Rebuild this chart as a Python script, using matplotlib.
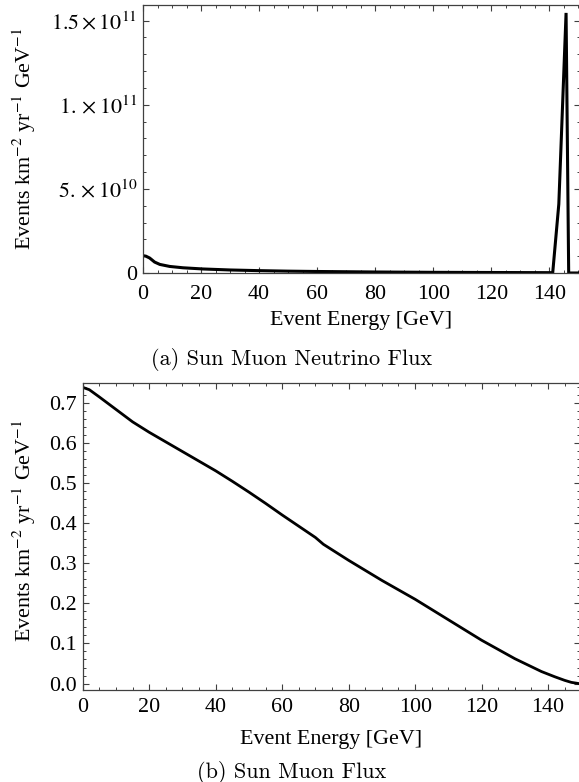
import matplotlib
matplotlib.use("Agg")
import matplotlib.pyplot as plt
from matplotlib.ticker import MultipleLocator

plt.rcParams["font.family"] = ["Liberation Serif", "DejaVu Serif"]
plt.rcParams["mathtext.fontset"] = "stix"

# (a) muon neutrino flux from the Sun
nu_energy = [0, 1, 2.3, 4.0, 5.8, 9.2, 13.8, 20.6, 30, 40, 50, 60, 80, 100, 120,
             141.2, 143.3, 145.8, 146.7, 150.6]
nu_flux = [1.03e10, 1.0e10, 0.89e10, 0.65e10, 0.51e10, 0.39e10, 0.31e10, 0.24e10,
           0.18e10, 0.14e10, 0.11e10, 0.09e10, 0.06e10, 0.04e10, 0.03e10,
           0.02e10, 0.41e11, 1.546e11, 0.0, 0.0]
nu_yticks = [0, 5e10, 1e11, 1.5e11]
nu_yticklabels = ["0", r"$5.\times10^{10}$", r"$1.\times10^{11}$", r"$1.5\times10^{11}$"]

# (b) muon flux from the Sun
mu_energy = [0, 2, 5, 10, 15, 20, 25, 30, 35, 40, 45, 50, 55, 60, 70, 72.4, 80, 90,
             100, 110, 120, 130, 138, 142, 145, 147, 149.3]
mu_flux = [0.738, 0.732, 0.714, 0.683, 0.652, 0.626, 0.602, 0.578, 0.554, 0.530,
           0.504, 0.477, 0.449, 0.420, 0.364, 0.347, 0.307, 0.257, 0.210, 0.159,
           0.108, 0.062, 0.030, 0.017, 0.008, 0.003, 0.0]
mu_yticks = [0.0, 0.1, 0.2, 0.3, 0.4, 0.5, 0.6, 0.7]

xticks = [0, 20, 40, 60, 80, 100, 120, 140]
ylabel = r"Events km$^{-2}$ yr$^{-1}$ GeV$^{-1}$"
xlabel = "Event Energy [GeV]"

W, H = 579, 782
FS = 15.8
fig = plt.figure(figsize=(W / 100, H / 100), dpi=100)


def style(ax, xpad):
    for s in ax.spines.values():
        s.set_color("0.25")
        s.set_linewidth(0.9)
    ax.tick_params(which="both", direction="in", top=True, right=True,
                   color="0.25", labelsize=FS, pad=4)
    ax.tick_params(axis="x", pad=xpad)
    ax.tick_params(which="major", length=4.5, width=0.8)
    ax.tick_params(which="minor", length=2.5, width=0.7)
    ax.xaxis.set_minor_locator(MultipleLocator(5))


ax1 = fig.add_axes([143 / W, 1 - 273 / H, 437 / W, 268 / H])
ax1.plot(nu_energy, nu_flux, color="black", lw=2.2, solid_joinstyle="miter")
ax1.set_xlim(0, 150.6)
ax1.set_ylim(0, 1.593e11)
ax1.set_xticks(xticks)
ax1.set_yticks(nu_yticks, nu_yticklabels)
ax1.yaxis.set_minor_locator(MultipleLocator(1e10))
style(ax1, 9)
ax1.set_xlabel(xlabel, fontsize=FS, labelpad=5)
ax1.set_ylabel(ylabel, fontsize=FS)
ax1.yaxis.set_label_coords((38 - 143) / 437, 0.5)

ax2 = fig.add_axes([82.7 / W, 1 - 690 / H, (580 - 82.7) / W, 306.7 / H])
ax2.plot(mu_energy, mu_flux, color="black", lw=2.0)
ax2.set_xlim(0, 149.6)
ax2.set_ylim(-0.016, 0.748)
ax2.set_xticks(xticks)
ax2.set_yticks(mu_yticks, [f"{v:.1f}" for v in mu_yticks])
ax2.yaxis.set_minor_locator(MultipleLocator(0.02))
style(ax2, 6)
ax2.set_xlabel(xlabel, fontsize=FS, labelpad=9)
ax2.set_ylabel(ylabel, fontsize=FS)
ax2.yaxis.set_label_coords((38 - 82.7) / 497.3, 0.518)

fig.text(292 / W, 1 - 360 / H, "(a) Sun Muon Neutrino Flux", family="cmr10",
         fontsize=16, ha="center", va="center")
fig.text(292 / W, 1 - 772 / H, "(b) Sun Muon Flux", family="cmr10",
         fontsize=16, ha="center", va="center")

fig.savefig("out.png", dpi=100)
